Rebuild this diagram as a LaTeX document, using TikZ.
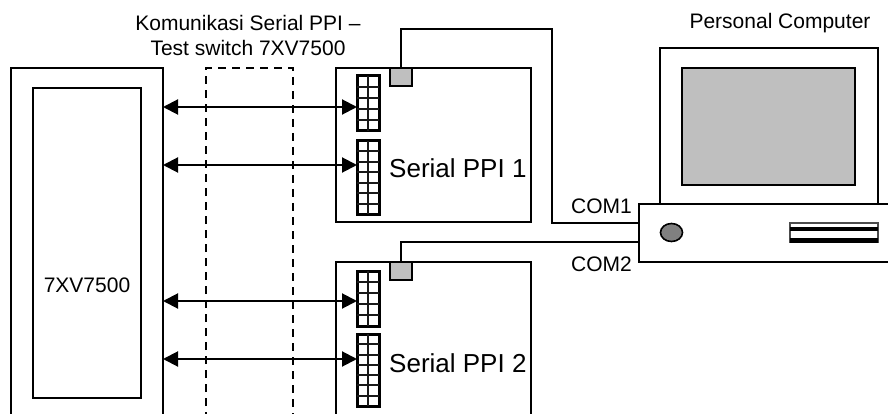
\documentclass[tikz,border=0pt]{standalone}
\usepackage{fontspec}
\setmainfont{Liberation Sans}
\usetikzlibrary{arrows.meta, shapes.geometric}
\tikzset{
    boxnode/.style={draw, line width=1.6pt, fill=white, anchor=north west, inner sep=0pt, outer sep=0pt},
    graynode/.style={boxnode, fill=black!25},
    pinsnode/.style={draw, line width=3pt, anchor=north west, inner sep=0pt, outer sep=0pt, minimum width=22pt},
    pinline/.style={black!90, line width=2pt},
    wireline/.style={line width=1.5pt},
    linkline/.style={{Triangle[length=15pt,width=15pt]}-{Triangle[length=15pt,width=15pt]}, line width=2pt},
    labelnode/.style={font=\fontsize{21}{25}\selectfont, align=center, inner sep=0pt},
    biglabel/.style={font=\fontsize{26}{30}\selectfont, anchor=west, inner sep=0pt}
}
\begin{document}
\begin{tikzpicture}[x=1pt, y=-1pt]
    \clip (0,0) rectangle (888,414);

    % Test switch
    \node[boxnode, minimum width=152, minimum height=370] (tester) at (11,68) {};
    \node[boxnode, line width=1.8pt, minimum width=108, minimum height=310] (testerin) at (33,88) {};
    \node[labelnode] (testerlabel) at (87,285) {7XV7500};

    % Serial PPI cards
    \node[boxnode, minimum width=195, minimum height=154] (cardA) at (336,68) {};
    \node[boxnode, minimum width=195, minimum height=170] (cardB) at (336,262) {};
    \node[biglabel] (cardAlabel) at (389,168) {Serial PPI 1};
    \node[biglabel] (cardBlabel) at (389,363) {Serial PPI 2};

    % Connectors on top of the cards
    \node[graynode, minimum width=22, minimum height=18] (connA) at (390,68) {};
    \node[graynode, minimum width=22, minimum height=18] (connB) at (390,262) {};

    % Pin headers
    \node[pinsnode, minimum height=55] (pinsA) at (357,76) {};
    \node[pinsnode, minimum height=73] (pinsB) at (357,141) {};
    \node[pinsnode, minimum height=55] (pinsC) at (357,271) {};
    \node[pinsnode, minimum height=72] (pinsD) at (357,334) {};
    \foreach \ytop/\ybot/\rows in {76/131/4, 141/214/6, 271/326/4, 334/406/6} {
        \draw[pinline] (368,\ytop) -- (368,\ybot);
        \foreach \k in {1,...,\rows}
            \draw[pinline] (357,{\ytop+\k*(\ybot-\ytop)/(\rows+1)}) -- (379,{\ytop+\k*(\ybot-\ytop)/(\rows+1)});
    }

    % Personal Computer
    \node[boxnode, minimum width=218, minimum height=160] (monitor) at (660,48) {};
    \node[graynode, minimum width=173, minimum height=117] (screen) at (682,68) {};
    \node[boxnode, minimum width=260, minimum height=58] (pc) at (639,204) {};
    \node[draw, line width=1.6pt, fill=black!50, ellipse, minimum width=22, minimum height=18, inner sep=0pt] (button) at (671.5,232.5) {};
    \node[boxnode, draw=black!70, line width=1.2pt, minimum width=88, minimum height=19] (drive) at (790,223) {};
    \node[fill=black, anchor=north west, inner sep=0pt, minimum width=88, minimum height=4] (stripeA) at (790,226.5) {};
    \node[fill=black, anchor=north west, inner sep=0pt, minimum width=88, minimum height=5] (stripeB) at (790,237.5) {};
    \node[labelnode] (pclabel) at (780,23) {Personal Computer};

    % Cables from the cards to the PC
    \coordinate (bendA) at (552,29);
    \coordinate (comA) at (639,223);
    \coordinate (comB) at (639,242);
    \draw[wireline] (connA.north) |- (bendA) |- (comA);
    \draw[wireline] (connB.north) |- (comB);
    \node[labelnode] (comAlabel) at (601.5,206) {COM1};
    \node[labelnode] (comBlabel) at (601.5,264) {COM2};

    % Serial links
    \coordinate (portA) at (357,107);
    \coordinate (portB) at (357,165);
    \coordinate (portC) at (357,301);
    \coordinate (portD) at (357,359);
    \foreach \port in {portA, portB, portC, portD}
        \draw[linkline] (tester.east |- \port) -- (\port);

    % Dashed switch outline
    \draw[dashed, dash pattern=on 8pt off 6pt, line width=1.6pt] (206,420) -- (206,68) -- (293,68) -- (293,420);
    \node[labelnode] (linklabel) at (248,35) {Komunikasi Serial PPI --\\Test switch 7XV7500};
\end{tikzpicture}
\end{document}
